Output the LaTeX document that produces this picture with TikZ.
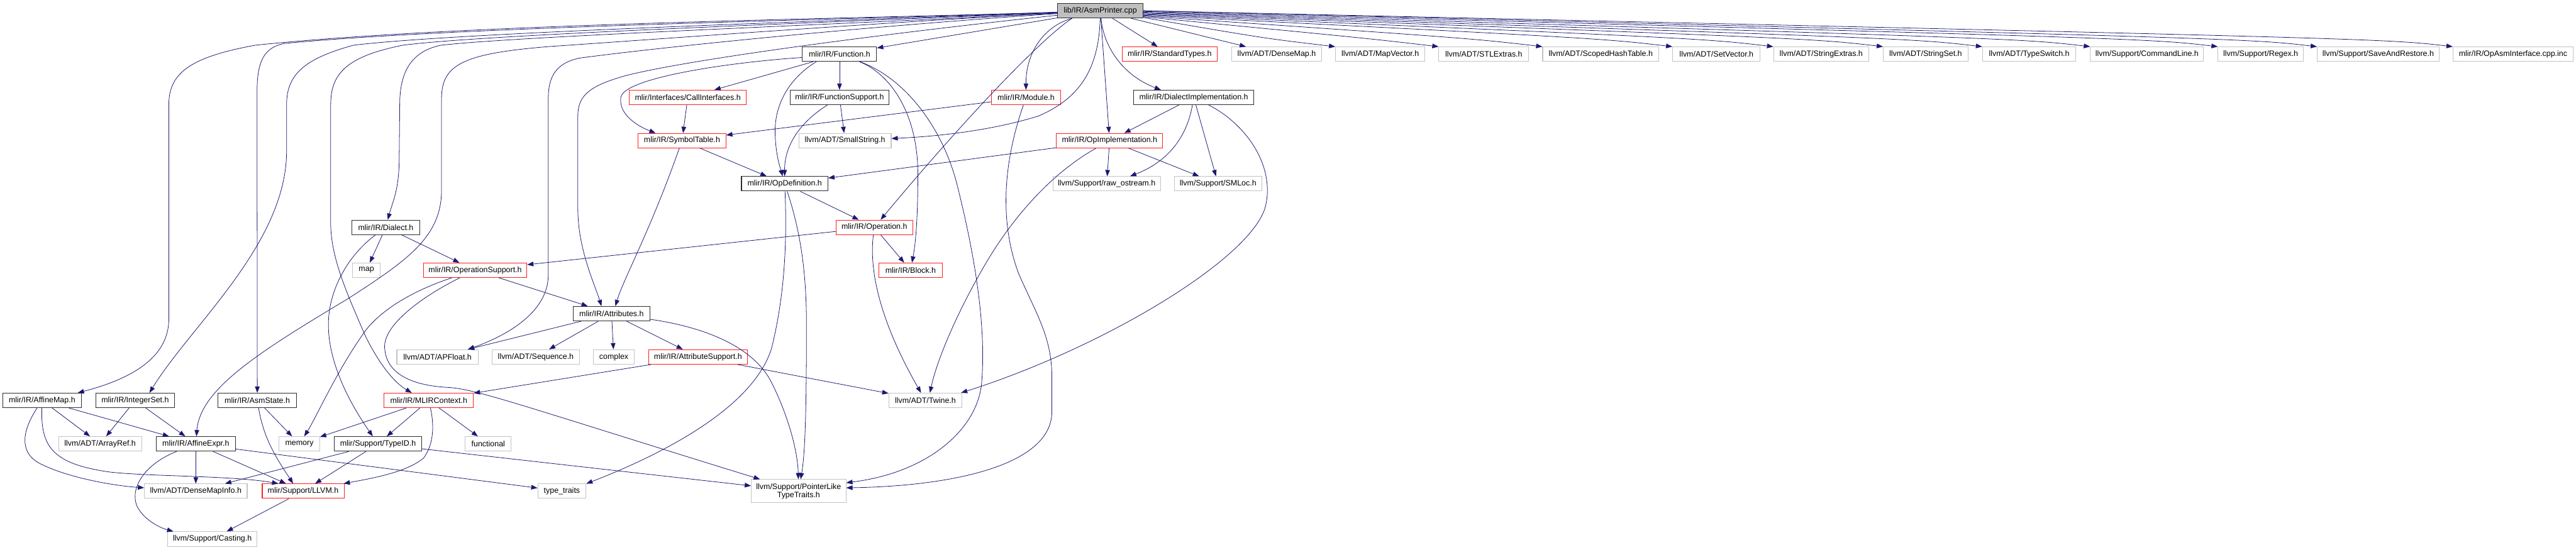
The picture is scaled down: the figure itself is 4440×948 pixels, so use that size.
\documentclass[tikz,border=0pt]{standalone}
\usepackage{fontspec}
\setmainfont{Liberation Sans}
\usetikzlibrary{arrows.meta,calc}
\definecolor{cedge}{RGB}{25,25,112}
\definecolor{cdoc}{RGB}{45,45,45}
\definecolor{cred}{RGB}{255,30,30}
\definecolor{cext}{RGB}{195,195,195}
\definecolor{croot}{RGB}{191,191,191}

\begin{document}
\begin{tikzpicture}[x=0.025cm,y=-0.025cm,>={Triangle[length=0.27cm,width=0.2cm]},
  incl/.style={draw=#1,line width=0.8pt,fill=white,minimum height=0.625cm,inner xsep=1pt,inner ysep=0pt,align=center,font=\fontsize{9.6}{10}\selectfont},
  hdoc/.style={incl=cdoc},
  hred/.style={incl=cred},
  hext/.style={incl=cext},
  hroot/.style={incl=cdoc,fill=croot},
  wd/.style={minimum width=#1*0.025cm},
  dep/.style={->,draw=cedge,line width=0.6pt}]

\useasboundingbox (0,0) rectangle (4440,948);

% ===== source file and first row =====
\node[hroot,wd=147] (root) at (1896.5,18.5) {lib/IR/AsmPrinter.cpp};
\node[hdoc,wd=128] (function) at (1447,93.5) {mlir/IR/Function.h};
\node[hred,wd=164] (stdtypes) at (2016,93.5) {mlir/IR/StandardTypes.h};
\node[hext,wd=155] (densemap) at (2200.5,93.5) {llvm/ADT/DenseMap.h};
\node[hext,wd=154] (mapvector) at (2379,93.5) {llvm/ADT/MapVector.h};
\node[hext,wd=155] (stlextras) at (2557.5,93.5) {llvm/ADT/STLExtras.h};
\node[hext,wd=200] (scopedhash) at (2759,93.5) {llvm/ADT/ScopedHashTable.h};
\node[hext,wd=151] (setvector) at (2958.5,93.5) {llvm/ADT/SetVector.h};
\node[hext,wd=164] (strextras) at (3139,93.5) {llvm/ADT/StringExtras.h};
\node[hext,wd=146] (strset) at (3319,93.5) {llvm/ADT/StringSet.h};
\node[hext,wd=161] (typeswitch) at (3497.5,93.5) {llvm/ADT/TypeSwitch.h};
\node[hext,wd=195] (cmdline) at (3700.5,93.5) {llvm/Support/CommandLine.h};
\node[hext,wd=147] (regex) at (3896.5,93.5) {llvm/Support/Regex.h};
\node[hext,wd=210] (saverestore) at (4099,93.5) {llvm/Support/SaveAndRestore.h};
\node[hext,wd=207] (opasmif) at (4331.5,93.5) {mlir/IR/OpAsmInterface.cpp.inc};

% ===== middle rows =====
\node[hred,wd=201] (callif) at (1185.5,168) {mlir/Interfaces/CallInterfaces.h};
\node[hdoc,wd=170] (funcsupp) at (1447,168) {mlir/IR/FunctionSupport.h};
\node[hred,wd=119] (module) at (1768.5,168) {mlir/IR/Module.h};
\node[hdoc,wd=207] (dialimpl) at (2057.5,168) {mlir/IR/DialectImplementation.h};
\node[hred,wd=151] (symtab) at (1175.5,242.5) {mlir/IR/SymbolTable.h};
\node[hext,wd=159] (smallstr) at (1456.5,242.5) {llvm/ADT/SmallString.h};
\node[hred,wd=183] (opimpl) at (1912.5,242.5) {mlir/IR/OpImplementation.h};
\node[hdoc,wd=149] (opdef) at (1352.5,317) {mlir/IR/OpDefinition.h};
\node[hext,wd=185] (rawostream) at (1907.5,317) {llvm/Support/raw\_ostream.h};
\node[hext,wd=151] (smloc) at (2099.5,317) {llvm/Support/SMLoc.h};
\node[hdoc,wd=118] (dialect) at (665,392) {mlir/IR/Dialect.h};
\node[hred,wd=132] (operation) at (1507,392) {mlir/IR/Operation.h};
\node[hext,wd=47] (map) at (631.5,466) {map};
\node[hred,wd=178] (opsupp) at (819,466) {mlir/IR/OperationSupport.h};
\node[hred,wd=109] (block) at (1569.5,466) {mlir/IR/Block.h};
\node[hdoc,wd=132] (attrs) at (1054,541) {mlir/IR/Attributes.h};
\node[hext,wd=140] (apfloat) at (754,615.5) {llvm/ADT/APFloat.h};
\node[hext,wd=151] (sequence) at (923.5,615.5) {llvm/ADT/Sequence.h};
\node[hext,wd=70] (complex) at (1058,615.5) {complex};
\node[hred,wd=170] (attrsupp) at (1203,615.5) {mlir/IR/AttributeSupport.h};

% ===== lower rows =====
\node[hdoc,wd=135] (affmap) at (72.5,690.5) {mlir/IR/AffineMap.h};
\node[hdoc,wd=136] (intset) at (233,690.5) {mlir/IR/IntegerSet.h};
\node[hdoc,wd=135] (asmstate) at (443.5,690.5) {mlir/IR/AsmState.h};
\node[hred,wd=154] (mlirctx) at (739,690.5) {mlir/IR/MLIRContext.h};
\node[hext,wd=126] (twine) at (1595,690.5) {llvm/ADT/Twine.h};
\node[hext,wd=143] (arrayref) at (172.5,765.5) {llvm/ADT/ArrayRef.h};
\node[hdoc,wd=137] (affexpr) at (337.5,765.5) {mlir/IR/AffineExpr.h};
\node[hext,wd=70] (memory) at (516,765.5) {memory};
\node[hdoc,wd=151] (typeid) at (651.5,765.5) {mlir/Support/TypeID.h};
\node[hext,wd=79] (functional) at (841.5,765.5) {functional};
\node[hext,wd=177] (densemapinfo) at (337.5,847) {llvm/ADT/DenseMapInfo.h};
\node[hred,wd=141] (llvmh) at (522.5,847) {mlir/Support/LLVM.h};
\node[hext,wd=83] (typetraits) at (968.5,847) {type\_traits};
\node[hext,wd=163,minimum height=1cm] (ptrlike) at (1376.5,847) {llvm/Support/PointerLike\\TypeTraits.h};
\node[hext,wd=154] (casting) at (366,929.5) {llvm/Support/Casting.h};

% ===== first row, fanned out from the right side of the source file =====
\foreach \b/\ang in {mapvector/-9.5,stlextras/-8.5,scopedhash/-7.5,setvector/-6.5,strextras/-5.5,strset/-4.5,
  typeswitch/-3.5,cmdline/-2.5,regex/-1.5,saverestore/-0.5,opasmif/0.5}
  {\draw[dep] (root.\ang) .. controls ($(\b.north west)+(-120,-14)$) .. (\b.north west);}

% ===== straight includes =====
\foreach \a/\b in {root/function,root/stdtypes,root/densemap,root/opimpl,function/callif,function/funcsupp,
  funcsupp/smallstr,callif/symtab,module/symtab,symtab/opdef,opimpl/opdef,opimpl/rawostream,opimpl/smloc,
  dialimpl/opimpl,dialimpl/smloc,opdef/operation,operation/block,operation/opsupp,dialect/map,dialect/opsupp,
  opsupp/attrs,attrs/apfloat,attrs/sequence,attrs/complex,attrs/attrsupp,attrsupp/mlirctx,attrsupp/twine,
  mlirctx/memory,mlirctx/typeid,mlirctx/functional,typeid/densemapinfo,typeid/llvmh,typeid/ptrlike,
  affmap/arrayref,affmap/affexpr,intset/arrayref,intset/affexpr,asmstate/memory,affexpr/densemapinfo,
  affexpr/llvmh,affexpr/typetraits,llvmh/casting}
  {\draw[dep] (\a) -- (\b);}

% ===== curved includes of the source file =====
\draw[dep] (root) .. controls (1500,32) and (800,40) .. (440,78) .. controls (330,98) and (291,125) .. (291,180) -- (291,550) .. controls (291,620) and (220,655) .. (affmap.12);
\draw[dep] (root) .. controls (1500,33) and (800,45) .. (490,75) .. controls (455,82) and (443,105) .. (443,160) -- (asmstate);
\draw[dep] (root) .. controls (1500,34) and (800,55) .. (609,78) .. controls (530,100) and (494,125) .. (494,180) -- (494,260) .. controls (494,420) and (330,560) .. (intset.28);
\draw[dep] (root) .. controls (1500,36) and (850,58) .. (694,78) .. controls (600,97) and (570,125) .. (570,180) -- (570,390) .. controls (572,450) and (600,510) .. (630,580) .. controls (655,630) and (680,660) .. (mlirctx.156);
\draw[dep] (root) .. controls (1500,40) and (900,62) .. (760,78) .. controls (712,88) and (689,120) .. (689,180) -- (688,280) .. controls (687,330) and (676,350) .. (dialect);
\draw[dep] (root) .. controls (1500,40) and (1100,70) .. (950,80) .. controls (800,92) and (761,110) .. (761,170) -- (761,330) .. controls (760,410) and (700,450) .. (600,515) .. controls (450,605) and (345,670) .. (affexpr);
\draw[dep] (root) .. controls (1500,45) and (1150,80) .. (1000,100) .. controls (960,108) and (945,130) .. (945,170) -- (945,474) .. controls (945,540) and (870,580) .. (apfloat.14);
\draw[dep] (root) .. controls (1550,55) and (1200,100) .. (1080,130) .. controls (1015,148) and (996,165) .. (996,200) -- (996,360) .. controls (996,430) and (1025,490) .. (attrs.143);
\draw[dep] (root.-165) .. controls (1800,45) and (1768,90) .. (module);
\draw[dep] (root.-165) .. controls (1790,70) and (1650,220) .. (operation);
\draw[dep] (root) .. controls (1894,120) and (1860,170) .. (1790,200) .. controls (1700,228) and (1600,236) .. (smallstr);
\draw[dep] (root) .. controls (1902,80) and (1935,130) .. (dialimpl.167);

% ===== other curved includes =====
\draw[dep] (function.-175) .. controls (1250,108) and (1075,135) .. (1070,168) .. controls (1066,198) and (1100,218) .. (symtab.164);
\draw[dep] (function.-162) .. controls (1360,135) and (1336,180) .. (1336,225) .. controls (1336,265) and (1345,290) .. (opdef);
\draw[dep] (function) .. controls (1530,125) and (1582,190) .. (1582,300) .. controls (1582,380) and (1578,420) .. (block);
\draw[dep] (function) .. controls (1560,135) and (1625,220) .. (1650,320) .. controls (1680,440) and (1700,560) .. (1692,660) .. controls (1685,740) and (1600,815) .. (ptrlike.10);
\draw[dep] (funcsupp) .. controls (1380,210) and (1352,250) .. (opdef);
\draw[dep] (module) .. controls (1740,250) and (1715,360) .. (1755,470) .. controls (1785,540) and (1813,580) .. (1813,650) -- (1813,710) .. controls (1813,800) and (1650,838) .. (ptrlike.4);
\draw[dep] (symtab) .. controls (1120,400) and (1075,480) .. (attrs.63);
\draw[dep] (opimpl) .. controls (1810,300) and (1740,380) .. (1690,470) .. controls (1650,540) and (1615,620) .. (twine.59);
\draw[dep] (dialimpl) .. controls (2045,240) and (2010,280) .. (rawostream.18);
\draw[dep] (dialimpl) .. controls (2150,215) and (2200,290) .. (2180,360) .. controls (2150,450) and (1900,600) .. (twine.12);
\draw[dep] (opdef) .. controls (1356,400) and (1355,500) .. (1330,600) .. controls (1300,700) and (1150,780) .. (typetraits.17);
\draw[dep] (opdef) .. controls (1380,400) and (1390,470) .. (1390,560) .. controls (1390,700) and (1388,780) .. (ptrlike);
\draw[dep] (operation) .. controls (1497,470) and (1520,560) .. (twine);
\draw[dep] (dialect) .. controls (600,440) and (566,500) .. (566,560) .. controls (566,640) and (620,720) .. (typeid);
\draw[dep] (opsupp) .. controls (730,495) and (665,525) .. (630,570) .. controls (580,640) and (545,720) .. (memory);
\draw[dep] (opsupp) .. controls (730,510) and (660,560) .. (663,600) .. controls (666,650) and (720,665) .. (770,668) .. controls (820,670) and (900,700) .. (ptrlike);
\draw[dep] (attrs) .. controls (1220,565) and (1300,600) .. (1330,660) .. controls (1360,720) and (1375,780) .. (ptrlike);
\draw[dep] (mlirctx) .. controls (750,740) and (745,770) .. (730,790) .. controls (700,815) and (640,825) .. (llvmh);
\draw[dep] (affmap) .. controls (40,740) and (30,780) .. (70,800) .. controls (120,825) and (200,838) .. (densemapinfo);
\draw[dep] (affmap) .. controls (70,770) and (90,800) .. (189,814) .. controls (260,822) and (400,820) .. (llvmh.163);
\draw[dep] (asmstate) .. controls (455,760) and (480,795) .. (llvmh.143);
\draw[dep] (affexpr) .. controls (250,800) and (225,840) .. (235,870) .. controls (245,895) and (275,910) .. (casting.169);
\end{tikzpicture}
\end{document}
